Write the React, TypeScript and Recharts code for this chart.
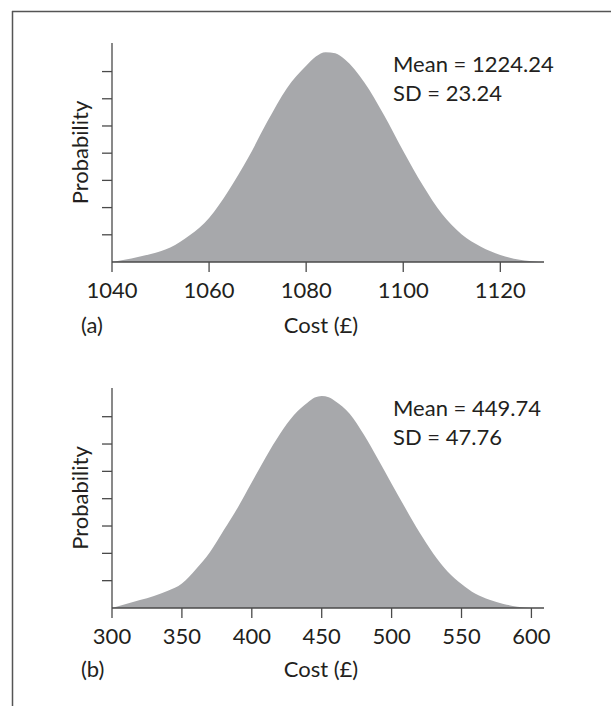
import React from "react";
import { AreaChart, Area, XAxis, YAxis } from "recharts";

// panel (a): cost in £ and height of the density curve (in y-tick units)
const COST_A = [1040, 1044, 1048, 1052, 1056, 1060, 1064, 1068, 1072, 1076, 1080, 1082, 1084, 1086, 1088, 1092, 1096, 1100, 1104, 1108, 1112, 1116, 1120, 1124, 1128];
const PROB_A = [0, 0.13, 0.29, 0.53, 0.98, 1.62, 2.62, 3.81, 5.16, 6.38, 7.21, 7.55, 7.71, 7.67, 7.44, 6.6, 5.41, 4.08, 2.83, 1.76, 1.02, 0.56, 0.26, 0.08, 0];
const TICKS_A = [1040, 1060, 1080, 1100, 1120];

// panel (b)
const COST_B = [300, 310, 320, 330, 340, 350, 360, 370, 380, 390, 400, 410, 420, 430, 440, 445, 450, 455, 460, 470, 480, 490, 500, 510, 520, 530, 540, 550, 560, 570, 580, 590, 600];
const PROB_B = [0, 0.15, 0.29, 0.44, 0.63, 0.9, 1.42, 2.04, 2.85, 3.68, 4.6, 5.52, 6.36, 7.05, 7.52, 7.7, 7.76, 7.71, 7.56, 7.11, 6.36, 5.47, 4.55, 3.64, 2.76, 1.98, 1.34, 0.88, 0.52, 0.3, 0.15, 0.05, 0];
const TICKS_B = [300, 350, 400, 450, 500, 550, 600];

const Y_TICKS = [1, 2, 3, 4, 5, 6, 7];

const AXIS = "#4a4a4a";
const INK = "#231f20";
const FILL = "#a7a8ab";
const FONT = "Lato, 'Noto Sans', sans-serif";

const dataA = COST_A.map((x, i) => ({ x, p: PROB_A[i] }));
const dataB = COST_B.map((x, i) => ({ x, p: PROB_B[i] }));

const noLabel = () => <g />;

function Panel({ data, domain, ticks, top, bottom }) {
  return (
    <AreaChart width={611} height={353} data={data} margin={{ top, bottom, left: 111, right: 67 }}>
      <XAxis
        type="number"
        dataKey="x"
        domain={domain}
        ticks={ticks}
        interval={0}
        allowDataOverflow
        height={1}
        tickSize={10}
        tickMargin={10}
        axisLine={{ stroke: AXIS, strokeWidth: 1.3 }}
        tickLine={{ stroke: AXIS, strokeWidth: 1.3 }}
        tick={{ fill: INK, fontSize: 22, fontFamily: FONT }}
      />
      <YAxis
        type="number"
        domain={[0, 8.05]}
        ticks={Y_TICKS}
        interval={0}
        allowDataOverflow
        width={1}
        tickSize={10}
        axisLine={{ stroke: AXIS, strokeWidth: 1.3 }}
        tickLine={{ stroke: AXIS, strokeWidth: 1.3 }}
        tick={noLabel}
      />
      <Area
        type="monotone"
        dataKey="p"
        stroke="none"
        fill={FILL}
        fillOpacity={1}
        isAnimationActive={false}
      />
    </AreaChart>
  );
}

export default function App() {
  const txt = { fill: INK, fontSize: 22, fontFamily: FONT };
  return (
    <div style={{ position: "absolute", left: 0, top: 0, width: 611, height: 706, background: "#fff" }}>
      <div style={{ position: "absolute", left: 0, top: 0 }}>
        <Panel data={dataA} domain={[1040, 1129]} ticks={TICKS_A} top={43} bottom={90} />
      </div>
      <div style={{ position: "absolute", left: 0, top: 353 }}>
        <Panel data={dataB} domain={[300, 609]} ticks={TICKS_B} top={35} bottom={97} />
      </div>
      <svg width={611} height={706} style={{ position: "absolute", left: 0, top: 0, pointerEvents: "none" }}>
        <line x1={12} y1={11.5} x2={611} y2={11.5} stroke="#555" strokeWidth={1.5} />
        <line x1={12.5} y1={11} x2={12.5} y2={706} stroke="#555" strokeWidth={1.5} />

        <text x={393} y={72} {...txt}>Mean = 1224.24</text>
        <text x={393} y={101} {...txt}>SD = 23.24</text>
        <text x={81} y={333} {...txt}>(a)</text>
        <text x={321} y={333} textAnchor="middle" {...txt}>Cost (£)</text>
        <text x={87.5} y={152.5} textAnchor="middle" transform="rotate(-90 87.5 152.5)" {...txt}>Probability</text>

        <text x={393} y={416} {...txt}>Mean = 449.74</text>
        <text x={393} y={445} {...txt}>SD = 47.76</text>
        <text x={81} y={677} {...txt}>(b)</text>
        <text x={321} y={677} textAnchor="middle" {...txt}>Cost (£)</text>
        <text x={87.5} y={498} textAnchor="middle" transform="rotate(-90 87.5 498)" {...txt}>Probability</text>
      </svg>
    </div>
  );
}
